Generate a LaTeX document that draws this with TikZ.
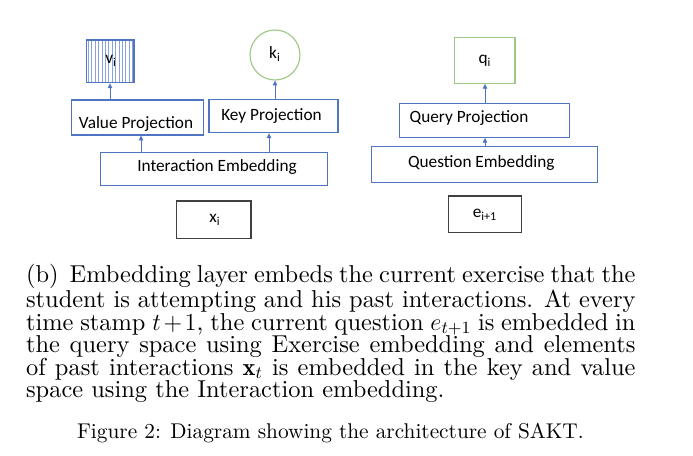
\RequirePackage{fix-cm}
\documentclass[tikz,border=0pt]{standalone}
\usepackage{fontspec}
\usetikzlibrary{arrows.meta}
\newfontfamily\carl{Carlito}
\newfontfamily\capfont{lmroman10-regular.otf}[BoldFont=lmroman10-bold.otf,ItalicFont=lmroman10-italic.otf]
\definecolor{boxblue}{HTML}{4F74C0}
\definecolor{stripeblue}{HTML}{8AA2DA}
\definecolor{boxgreen}{HTML}{9CC784}
\definecolor{boxgray}{HTML}{404040}
\begin{document}
\begin{tikzpicture}[x=0.5333pt,y=-0.5333pt,
  bluebox/.style={draw=boxblue,line width=0.6pt,inner sep=0pt},
  greenbox/.style={draw=boxgreen,line width=0.6pt,inner sep=0pt},
  graybox/.style={draw=boxgray,line width=0.6pt,inner sep=0pt},
  lbl/.style={font=\carl\fontsize{9.2}{11}\selectfont,inner sep=0pt},
  captxt/.style={font={\capfont\fontsize{13.03}{12}\selectfont},inner sep=0pt},
  figtxt/.style={font={\capfont\fontsize{11.37}{12}\selectfont},inner sep=0pt},
  arr/.style={draw=boxblue,line width=0.5pt,-{Triangle[length=2.6pt,width=2.4pt]}}]
\useasboundingbox (0,0) rectangle (693,456);
% left column
\node[bluebox,minimum width=47.3*0.5333pt,minimum height=42.7*0.5333pt] (v) at (110.3,61.3) {};
\foreach \i in {0,...,13} {\draw[stripeblue,line width=0.45pt] (88.5+\i*3.4,40.5) -- (88.5+\i*3.4,82.2);}
\draw[boxblue,line width=0.6pt] (86.7,40) rectangle (134,82.7);
\node[lbl] (vt) at (111,61) {v\textsubscript{i}};
\node[greenbox,circle,minimum size=50*0.5333pt] (k) at (275,55) {};
\node[lbl] (kt) at (275,54) {k\textsubscript{i}};
\node[bluebox,minimum width=131.6*0.5333pt,minimum height=35*0.5333pt] (vp) at (137.5,117.5) {};
\node[lbl] (vpt) at (136,124) {Value Projection};
\node[bluebox,minimum width=129*0.5333pt,minimum height=33.4*0.5333pt] (kp) at (273.5,116) {};
\node[lbl] (kpt) at (271.5,116) {Key Projection};
\node[bluebox,minimum width=227*0.5333pt,minimum height=33.4*0.5333pt] (ie) at (214.2,169) {};
\node[lbl] (iet) at (217,166.5) {Interaction Embedding};
\node[graybox,minimum width=74.3*0.5333pt,minimum height=37.3*0.5333pt] (x) at (213.8,219.7) {};
\node[lbl] (xt) at (215,220) {x\textsubscript{i}};
% right column
\node[greenbox,minimum width=60.7*0.5333pt,minimum height=46*0.5333pt] (q) at (484.7,60.3) {};
\node[lbl] (qt) at (485,61) {q\textsubscript{i}};
\node[bluebox,minimum width=170*0.5333pt,minimum height=34*0.5333pt] (qp) at (484.3,120.3) {};
\node[lbl] (qpt) at (469,118) {Query Projection};
\node[bluebox,minimum width=225.6*0.5333pt,minimum height=36*0.5333pt] (qe) at (484.5,164.7) {};
\node[lbl] (qet) at (481.3,163) {Question Embedding};
\node[graybox,minimum width=73.4*0.5333pt,minimum height=36.7*0.5333pt] (e) at (485,214.3) {};
\node[lbl] (et) at (485,215) {e\textsubscript{i+1}};
% arrows
\draw[arr] (ie.north -| 141,0) -- (vp.south -| 141,0);
\draw[arr] (vp.north -| 110,0) -- (v.south -| 110,0);
\draw[arr] (ie.north -| 269,0) -- (kp.south -| 269,0);
\draw[arr] (kp.north -| 275,0) -- (k.south);
\draw[arr] (qe.north -| 485,0) -- (qp.south -| 485,0);
\draw[arr] (qp.north -| 485,0) -- (q.south -| 485,0);
% caption
\node[captxt,anchor=north west,text width=325pt,align=justify] (cap) at (25.7,263.4)
{\lineskiplimit=-20pt (b)\hspace{0.45em}Embedding layer embeds the current exercise that the\linebreak
student is attempting and his past interactions. At every\linebreak
time stamp $t+1$, the current question $e_{t+1}$ is embedded in\linebreak
the query space using Exercise embedding and elements\linebreak
of past interactions $\mathbf{x}_t$ is embedded in the key and value\linebreak
space using the Interaction embedding.};
\node[figtxt,anchor=base west] (fig) at (76.7,438) {Figure 2: Diagram showing the architecture of SAKT.};
\end{tikzpicture}
\end{document}
